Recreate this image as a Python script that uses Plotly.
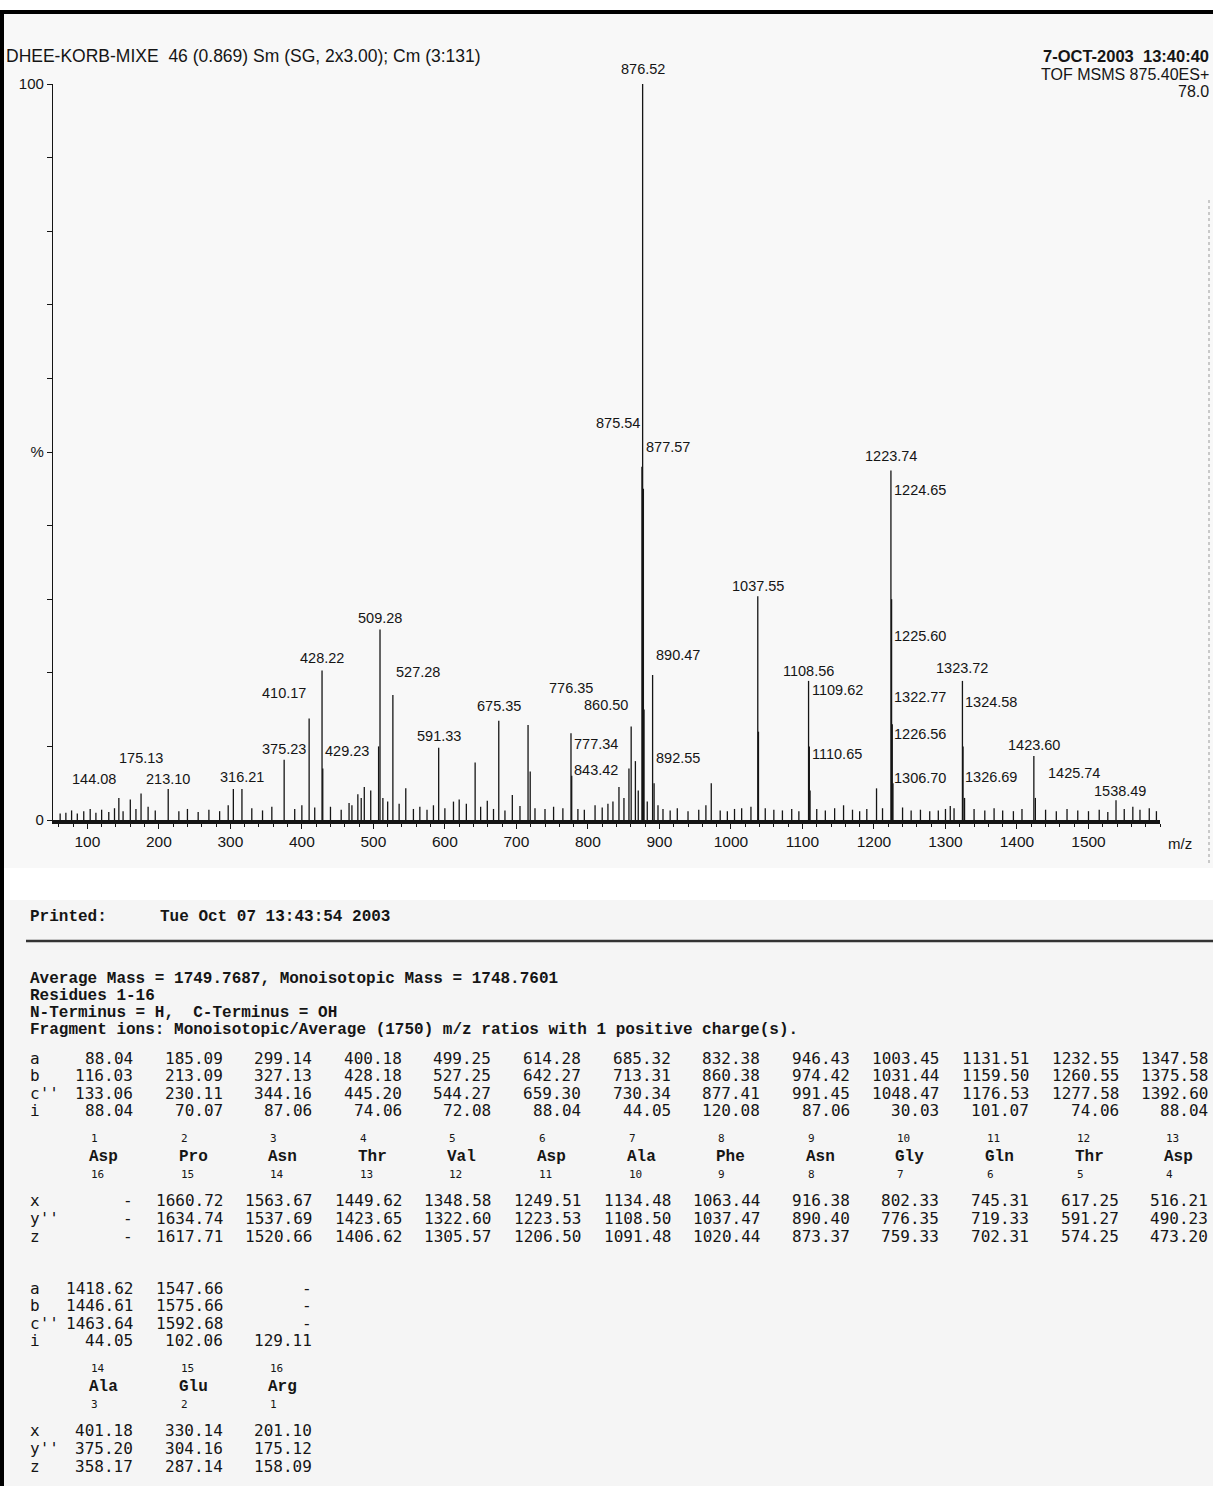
import plotly.graph_objects as go

# ---------------- spectrum data ----------------
peak_mz = [144.08, 160.1, 175.13, 213.10, 304.2, 316.21, 375.23, 410.17, 428.22, 429.23,
           478.3, 487.3, 496.3, 507.3, 509.28, 513.3, 527.28, 545.3, 591.33, 642.3,
           659.3, 675.35, 694.3, 716.3, 719.3, 776.35, 777.34, 843.42, 850.4, 857.4,
           860.50, 866.4, 870.4, 875.54, 876.52, 877.57, 878.5, 890.47, 892.55, 972.5,
           1037.55, 1038.5, 1108.56, 1109.62, 1110.65, 1157.5, 1203.6, 1223.74, 1224.65,
           1225.60, 1226.56, 1306.70, 1323.72, 1324.58, 1326.69, 1423.60, 1425.74, 1538.49]
peak_int = [3.0, 2.8, 3.6, 4.2, 4.2, 4.2, 8.2, 13.8, 20.3, 7.0,
            3.5, 4.5, 4.0, 10.0, 25.9, 3.0, 17.0, 4.3, 9.8, 7.8,
            2.6, 13.5, 3.4, 12.9, 6.6, 11.8, 6.0, 4.5, 3.0, 7.0,
            12.7, 8.0, 4.0, 48.0, 100.0, 45.0, 15.0, 19.7, 5.0, 5.0,
            30.4, 12.0, 18.9, 10.0, 4.0, 2.0, 4.3, 47.5, 30.0,
            13.0, 5.0, 1.9, 18.9, 10.0, 3.0, 8.7, 3.0, 2.7]

# small background peaks (read by eye along the baseline)
noise_mz = [62, 70, 78, 86, 95, 104, 112, 120, 130, 138, 150, 168, 185, 195, 228, 240, 255,
            270, 285, 297, 330, 345, 358, 390, 400, 418, 440, 455, 466, 470, 483, 520, 536,
            556, 565, 575, 584, 600, 612, 620, 630, 650, 668, 684, 705, 726, 740, 752, 765,
            786, 795, 810, 820, 828, 835, 883, 898, 905, 915, 925, 940, 955, 965, 985, 995,
            1005, 1015, 1028, 1048, 1060, 1072, 1085, 1095, 1120, 1132, 1145, 1170, 1180,
            1190, 1212, 1240, 1252, 1265, 1278, 1290, 1300, 1312, 1340, 1355, 1368, 1380,
            1395, 1407, 1440, 1455, 1470, 1485, 1500, 1515, 1527, 1550, 1562, 1572, 1585, 1595]
noise_int = [0.9, 1.0, 1.3, 0.9, 1.2, 1.5, 1.0, 1.4, 1.1, 1.6, 1.2, 1.5, 1.8, 1.3, 1.2, 1.5, 1.1,
             1.4, 1.2, 2.0, 1.6, 1.3, 1.8, 1.5, 2.0, 1.7, 1.8, 1.4, 2.3, 2.0, 3.0, 2.5, 2.2,
             1.5, 1.8, 1.4, 2.0, 1.6, 2.5, 2.8, 2.2, 1.8, 1.5, 1.3, 1.9, 1.6, 1.5, 1.8, 1.6,
             1.5, 1.4, 2.0, 1.7, 2.2, 2.5, 2.5, 2.0, 1.5, 1.3, 1.6, 1.2, 1.4, 2.0, 1.3, 1.2,
             1.5, 1.6, 1.8, 1.6, 1.4, 1.3, 1.5, 1.2, 1.5, 1.3, 1.6, 1.4, 1.2,
             1.5, 1.6, 1.7, 1.3, 1.4, 1.2, 1.3, 1.5, 1.6, 1.5, 1.3, 1.6, 1.3,
             1.2, 1.5, 1.4, 1.2, 1.5, 1.3, 1.2, 1.4, 1.1, 1.5, 1.8, 1.4, 1.6, 1.2]

# labelled peaks
label_mz = [144.08, 175.13, 213.10, 316.21, 375.23, 410.17, 428.22, 429.23, 509.28, 527.28,
            591.33, 675.35, 776.35, 777.34, 843.42, 860.50, 875.54, 876.52, 877.57, 890.47,
            892.55, 1037.55, 1108.56, 1109.62, 1110.65, 1223.74, 1224.65, 1225.60, 1226.56,
            1306.70, 1322.77, 1323.72, 1324.58, 1326.69, 1423.60, 1425.74, 1538.49]

x_tick_vals = [100, 200, 300, 400, 500, 600, 700, 800, 900, 1000, 1100, 1200, 1300, 1400, 1500]
y_tick_vals = [0, 10, 20, 30, 40, 50, 60, 70, 80, 90, 100]
y_tick_text = ["0", "", "", "", "", "%", "", "", "", "", "100"]

# ---------------- sequence / fragment table data ----------------
residues = ["Asp", "Pro", "Asn", "Thr", "Val", "Asp", "Ala", "Phe", "Asn", "Gly", "Gln",
            "Thr", "Asp", "Ala", "Glu", "Arg"]
ion_a = [88.04, 185.09, 299.14, 400.18, 499.25, 614.28, 685.32, 832.38, 946.43, 1003.45,
         1131.51, 1232.55, 1347.58, 1418.62, 1547.66, None]
ion_b = [116.03, 213.09, 327.13, 428.18, 527.25, 642.27, 713.31, 860.38, 974.42, 1031.44,
         1159.50, 1260.55, 1375.58, 1446.61, 1575.66, None]
ion_c = [133.06, 230.11, 344.16, 445.20, 544.27, 659.30, 730.34, 877.41, 991.45, 1048.47,
         1176.53, 1277.58, 1392.60, 1463.64, 1592.68, None]
ion_i = [88.04, 70.07, 87.06, 74.06, 72.08, 88.04, 44.05, 120.08, 87.06, 30.03, 101.07,
         74.06, 88.04, 44.05, 102.06, 129.11]
ion_x = [None, 1660.72, 1563.67, 1449.62, 1348.58, 1249.51, 1134.48, 1063.44, 916.38,
         802.33, 745.31, 617.25, 516.21, 401.18, 330.14, 201.10]
ion_y = [None, 1634.74, 1537.69, 1423.65, 1322.60, 1223.53, 1108.50, 1037.47, 890.40,
         776.35, 719.33, 591.27, 490.23, 375.20, 304.16, 175.12]
ion_z = [None, 1617.71, 1520.66, 1406.62, 1305.57, 1206.50, 1091.48, 1020.44, 873.37,
         759.33, 702.31, 574.25, 473.20, 358.17, 287.14, 158.09]

header_left = "DHEE-KORB-MIXE  46 (0.869) Sm (SG, 2x3.00); Cm (3:131)"
header_right = ["7-OCT-2003  13:40:40", "TOF MSMS 875.40ES+", "78.0"]
info_lines = ["Average Mass = 1749.7687, Monoisotopic Mass = 1748.7601",
              "Residues 1-16",
              "N-Terminus = H,  C-Terminus = OH",
              "Fragment ions: Monoisotopic/Average (1750) m/z ratios with 1 positive charge(s)."]

# ---------------- layout (positions / styles) ----------------
FW, FH = 1213, 1486
L, R, T, B = 53, 1160, 84, 820
PW, PH = R - L, B - T


def xp(px):
    return (px - L) / PW


def yp(py):
    return (B - py) / PH


# label placement: (line it is attached to, label centre height %, side, extra shift)
label_layout = {
    144.08: (144.08, 5.6, "r", 0), 175.13: (175.13, 8.4, "c", 0), 213.10: (213.10, 5.6, "c", 0),
    316.21: (316.21, 5.9, "c", 0), 375.23: (375.23, 9.7, "c", 0), 410.17: (410.17, 17.3, "r", 0),
    428.22: (428.22, 22.0, "c", 0), 429.23: (428.22, 9.4, "l", 0), 509.28: (509.28, 27.5, "c", 0),
    527.28: (527.28, 20.1, "l", 0), 591.33: (591.33, 11.4, "c", 0), 675.35: (675.35, 15.5, "c", 0),
    776.35: (776.35, 18.0, "c", 0), 777.34: (776.35, 10.3, "l", 0), 843.42: (776.35, 6.8, "l", 0),
    860.50: (860.50, 15.6, "r", 0), 875.54: (876.52, 53.9, "r", 0), 876.52: (876.52, 102.0, "c", 0),
    877.57: (876.52, 50.7, "l", 0), 890.47: (890.47, 22.4, "l", 0), 892.55: (890.47, 8.4, "l", 0),
    1037.55: (1037.55, 31.8, "c", 0), 1108.56: (1108.56, 20.3, "c", 0),
    1109.62: (1108.56, 17.6, "l", 0), 1110.65: (1108.56, 9.0, "l", 0),
    1223.74: (1223.74, 49.5, "c", 0), 1224.65: (1223.74, 44.9, "l", 0),
    1225.60: (1223.74, 25.0, "l", 0), 1226.56: (1223.74, 11.7, "l", 0),
    1306.70: (1223.74, 5.7, "l", 0), 1322.77: (1223.74, 16.7, "l", 0),
    1323.72: (1323.72, 20.7, "c", 0), 1324.58: (1323.72, 16.0, "l", 0),
    1326.69: (1323.72, 5.9, "l", 0), 1423.60: (1423.60, 10.2, "c", 0),
    1425.74: (1423.60, 6.4, "l", 11), 1538.49: (1538.49, 4.0, "c", 4),
}

INK = "#151515"
SANS = "Liberation Sans, Arial, sans-serif"
MONO_NUM = "DejaVu Sans Mono, monospace"
MONO_BOLD = "Liberation Mono, Courier New, monospace"

# ---------------- figure ----------------
all_mz = list(noise_mz) + list(peak_mz)
all_int = list(noise_int) + list(peak_int)
xs, ys = [], []
for m, h in zip(all_mz, all_int):
    xs += [m, m, None]
    ys += [0, h, None]

fig = go.Figure()
fig.add_trace(go.Scatter(x=xs, y=ys, mode="lines", line=dict(color=INK, width=1.3),
                         hoverinfo="skip", cliponaxis=False))

annotations = []

for m in label_mz:
    line_mz, ypct, side, extra = label_layout[m]
    if side == "c":
        xa, xs_ = "center", extra
    elif side == "l":
        xa, xs_ = "left", 1 + extra
    else:
        xa, xs_ = "right", -1
    # y given in paper units (the y axis runs 0..100 over the full plot height)
    annotations.append(dict(x=line_mz, y=ypct / 100.0, xref="x", yref="paper", text=f"{m:.2f}",
                            showarrow=False, xanchor=xa, yanchor="middle", xshift=xs_,
                            font=dict(family=SANS, size=14.5, color=INK)))

# header of the spectrum
annotations.append(dict(x=xp(4), y=yp(56), xref="paper", yref="paper", text=header_left,
                        showarrow=False, xanchor="left", yanchor="middle",
                        font=dict(family=SANS, size=17.5, color=INK)))
for txt, py, bold in zip(header_right, [56, 74, 91], [True, False, False]):
    annotations.append(dict(x=xp(1211), y=yp(py), xref="paper", yref="paper",
                            text=f"<b>{txt}</b>" if bold else txt, showarrow=False,
                            xanchor="right", yanchor="middle",
                            font=dict(family=SANS, size=16.5 if bold else 16, color=INK)))
annotations.append(dict(x=xp(1166), y=yp(843), xref="paper", yref="paper", text="m/z",
                        showarrow=False, xanchor="left", yanchor="middle",
                        font=dict(family=SANS, size=15, color=INK)))

# printed / info text
annotations.append(dict(x=xp(28), y=yp(917), xref="paper", yref="paper", text="<b>Printed:</b>",
                        showarrow=False, xanchor="left", yanchor="middle",
                        font=dict(family=MONO_BOLD, size=16, color=INK)))
annotations.append(dict(x=xp(158), y=yp(917), xref="paper", yref="paper",
                        text="<b>Tue Oct 07 13:43:54 2003</b>", showarrow=False,
                        xanchor="left", yanchor="middle",
                        font=dict(family=MONO_BOLD, size=16, color=INK)))
for k, line in enumerate(info_lines):
    annotations.append(dict(x=xp(28), y=yp(979 + 17 * k), xref="paper", yref="paper",
                            text=f"<b>{line}</b>", showarrow=False, xanchor="left",
                            yanchor="middle", font=dict(family=MONO_BOLD, size=16, color=INK)))


def col_right(c):
    return 135 + 89.6 * c


def fmt(v):
    return "-" if v is None else f"{v:.2f}"


blocks = [(list(range(0, 13)), 1058), (list(range(13, 16)), 1288)]
row_names = ["a", "b", "c''", "i"]
low_names = ["x", "y''", "z"]
NUM_SIZE = 16
for idxs, y0 in blocks:
    top_rows = [y0, y0 + 17.5, y0 + 35, y0 + 52.5]
    y_idx, y_name, y_rev = y0 + 80, y0 + 99, y0 + 116
    low_rows = [y0 + 142, y0 + 160, y0 + 178]
    for rn, ry in zip(row_names, top_rows):
        annotations.append(dict(x=xp(28), y=yp(ry), xref="paper", yref="paper", text=rn,
                                showarrow=False, xanchor="left", yanchor="middle",
                                font=dict(family=MONO_NUM, size=NUM_SIZE, color=INK)))
    for rn, ry in zip(low_names, low_rows):
        annotations.append(dict(x=xp(28), y=yp(ry), xref="paper", yref="paper", text=rn,
                                showarrow=False, xanchor="left", yanchor="middle",
                                font=dict(family=MONO_NUM, size=NUM_SIZE, color=INK)))
    for c, r in enumerate(idxs):
        xr = col_right(c)
        for arr, ry in zip([ion_a, ion_b, ion_c, ion_i], top_rows):
            annotations.append(dict(x=xp(xr), y=yp(ry), xref="paper", yref="paper",
                                    text=fmt(arr[r]), showarrow=False, xanchor="right",
                                    yanchor="middle",
                                    font=dict(family=MONO_NUM, size=NUM_SIZE, color=INK)))
        for arr, ry in zip([ion_x, ion_y, ion_z], low_rows):
            annotations.append(dict(x=xp(xr), y=yp(ry), xref="paper", yref="paper",
                                    text=fmt(arr[r]), showarrow=False, xanchor="right",
                                    yanchor="middle",
                                    font=dict(family=MONO_NUM, size=NUM_SIZE, color=INK)))
        annotations.append(dict(x=xp(xr - 46), y=yp(y_idx), xref="paper", yref="paper",
                                text=str(r + 1), showarrow=False, xanchor="left",
                                yanchor="middle", font=dict(family=MONO_NUM, size=11, color=INK)))
        annotations.append(dict(x=xp(xr - 48), y=yp(y_name), xref="paper", yref="paper",
                                text=f"<b>{residues[r]}</b>", showarrow=False, xanchor="left",
                                yanchor="middle", font=dict(family=MONO_BOLD, size=16, color=INK)))
        annotations.append(dict(x=xp(xr - 46), y=yp(y_rev), xref="paper", yref="paper",
                                text=str(len(residues) - r), showarrow=False, xanchor="left",
                                yanchor="middle", font=dict(family=MONO_NUM, size=11, color=INK)))

shapes = [
    # light scanned-page backgrounds
    dict(type="rect", xref="paper", yref="paper", x0=xp(0), x1=xp(FW), y0=yp(12), y1=yp(868),
         fillcolor="#f8f8f8", line=dict(width=0), layer="below"),
    dict(type="rect", xref="paper", yref="paper", x0=xp(0), x1=xp(FW), y0=yp(900), y1=yp(FH),
         fillcolor="#f5f5f5", line=dict(width=0), layer="below"),
    # frame
    dict(type="line", xref="paper", yref="paper", x0=xp(0), x1=xp(FW), y0=yp(12), y1=yp(12),
         line=dict(color="#000000", width=4)),
    dict(type="line", xref="paper", yref="paper", x0=xp(2), x1=xp(2), y0=yp(11), y1=yp(FH),
         line=dict(color="#000000", width=4)),
    # right dotted border of the spectrum
    dict(type="line", xref="paper", yref="paper", x0=xp(1209), x1=xp(1209), y0=yp(200),
         y1=yp(865), line=dict(color="#9a9a9a", width=1, dash="dot")),
    # rule under "Printed"
    dict(type="line", xref="paper", yref="paper", x0=xp(26), x1=xp(FW), y0=yp(941), y1=yp(941),
         line=dict(color="#333333", width=2.5)),
]

fig.update_layout(
    width=FW, height=FH,
    margin=dict(l=L, r=FW - R, t=T, b=FH - B, pad=0),
    paper_bgcolor="white", plot_bgcolor="rgba(0,0,0,0)",
    showlegend=False,
    annotations=annotations,
    shapes=shapes,
    xaxis=dict(range=[52, 1600], showgrid=False, zeroline=False, showline=True,
               linecolor=INK, linewidth=3.5, ticks="outside", ticklen=5, tickwidth=1,
               tickcolor=INK, tickvals=x_tick_vals, ticktext=[str(v) for v in x_tick_vals],
               tickfont=dict(family=SANS, size=15.5, color=INK),
               minor=dict(dtick=20, tick0=0, ticks="outside", ticklen=3, tickcolor=INK)),
    yaxis=dict(range=[0, 100], showgrid=False, zeroline=False, showline=True,
               linecolor=INK, linewidth=1.3, ticks="outside", ticklen=5, tickwidth=1,
               tickcolor=INK, tickvals=y_tick_vals, ticktext=y_tick_text,
               tickfont=dict(family=SANS, size=15, color=INK)),
)

fig.write_html("out.html", config={"displayModeBar": False},
               post_script="document.body.style.margin='0px';document.body.style.overflow='hidden';")
